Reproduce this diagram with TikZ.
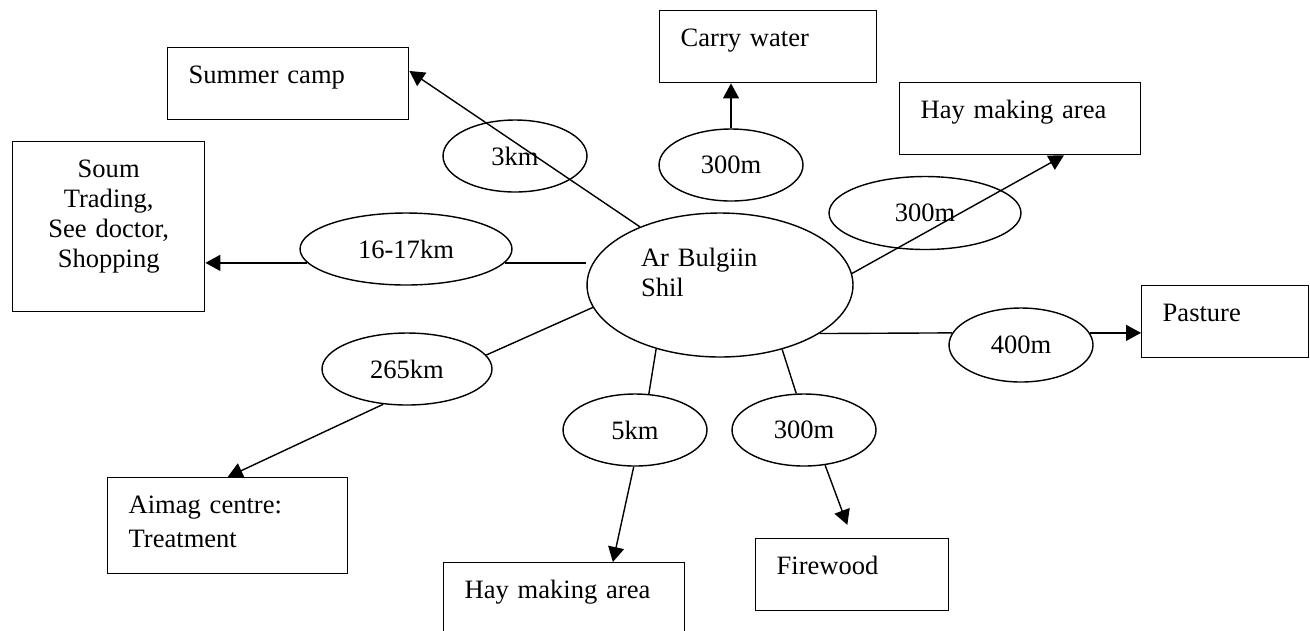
\documentclass[tikz,border=0pt]{standalone}
\usepackage{fontspec}
\setmainfont{Liberation Serif}
\usetikzlibrary{shapes.geometric,arrows.meta}

\begin{document}
\begin{tikzpicture}[x=0.02cm,y=-0.02cm,
  font=\fontsize{15.1pt}{18pt}\selectfont,
  line width=0.8pt,
  place/.style={draw,anchor=north west,inner xsep=0.42cm,inner ysep=0pt,
    align=left,text height=0.72cm,text depth=0.72cm},
  dist/.style={draw,ellipse,inner sep=0pt,minimum width=2.88cm,minimum height=1.44cm},
  arr/.style={-{Triangle[length=0.3cm,width=0.32cm]}}]
\useasboundingbox (0,0) rectangle (1310,630);
\clip (0,0) rectangle (1310,630);

\node[draw,ellipse,inner sep=0pt,minimum width=5.32cm,minimum height=2.88cm,
  text width=3.16cm,align=left,text height=0.4cm,text depth=1.16cm,
  font=\fontsize{15.1pt}{0.6cm}\selectfont] (main) at (720,285) {Ar Bulgiin\\Shil};

% places
\node[place,text width=3.98cm] (summer) at (167,47) {Summer camp};
\node[place,text width=3.5cm] (water) at (659,10) {Carry water};
\node[place,text width=3.98cm] (haytop) at (899,82) {Hay making area};
\node[place,text width=3.84cm,inner xsep=0pt,align=center,text depth=2.68cm,
  font=\fontsize{15.1pt}{0.6cm}\selectfont] (soum) at (12,141)
  {Soum\\Trading,\\See doctor,\\Shopping};
\node[place,text width=2.5cm] (pasture) at (1141,285) {Pasture};
\node[place,text width=3.96cm,text depth=1.2cm,
  font=\fontsize{15.1pt}{0.68cm}\selectfont] (aimag) at (107,477)
  {Aimag centre:\\Treatment};
\node[place,text width=3.98cm] (haybot) at (443,562) {Hay making area};
\node[place,text width=3.02cm] (fire) at (755,538) {Firewood};

% distances
\node[dist] (d3km) at (515,156) {3km};
\node[dist] (dwater) at (731,165) {300m};
\node[dist,minimum width=3.84cm,minimum height=1.46cm] (dhaytop) at (925,213) {300m};
\node[dist,minimum width=4.24cm] (dsoum) at (406,249) {16-17km};
\node[dist,minimum width=3.4cm] (daimag) at (407,369) {265km};
\node[dist] (dhaybot) at (635,430) {5km};
\node[dist] (dfire) at (804,430) {300m};
\node[dist,minimum height=1.48cm] (dpasture) at (1021,345) {400m};

\draw[arr] (main.144) -- (summer.6);
\draw[arr] (dwater.north) -- (dwater.north |- water.south);
\draw[arr] (main.5) -- (haytop.320);
\draw (dsoum.352) -- (dsoum.352 -| main.west);
\draw[arr] (dsoum.188) -- (dsoum.188 -| soum.east);
\draw (main.190) -- (daimag.10);
\draw[arr] (daimag.236) -- (aimag.north);
\draw (main.225) -- (dhaybot.69);
\draw[arr] (dhaybot.268) -- (haybot.37);
\draw (main.314) -- (dfire.102);
\draw[arr,shorten >=0.28cm] (dfire.301) -- (fire.north);
\draw (main.334) -- (dpasture.170);
\draw[arr] (dpasture.10) -- (dpasture.10 -| pasture.west);
\end{tikzpicture}
\end{document}
